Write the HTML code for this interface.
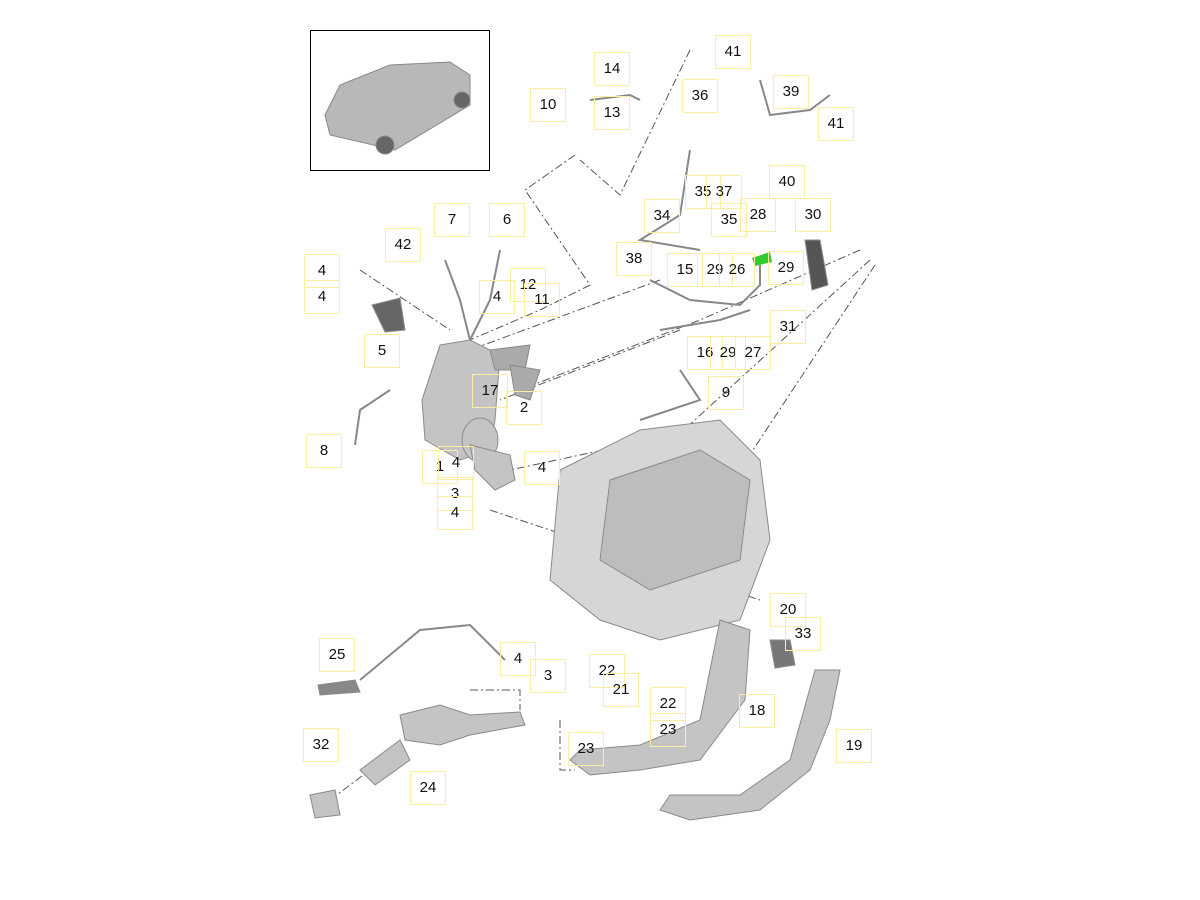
<!DOCTYPE html>
<html><head><meta charset="utf-8"><style>
html,body{margin:0;padding:0;background:#fff;}
#c{position:relative;width:1200px;height:900px;overflow:hidden;font-family:"Liberation Sans",sans-serif;}
.l{position:absolute;width:36px;height:34px;margin-left:-18px;margin-top:-17px;border:1px solid #fbeea0;box-sizing:border-box;font-size:15px;color:#111;text-align:center;line-height:32px;}
svg{position:absolute;left:0;top:0;}
</style></head><body><div id="c">
<svg width="1200" height="900">
<rect x="310.5" y="30.5" width="179" height="140" fill="none" stroke="#000"/>
<g fill="#b8b8b8" stroke="#888" stroke-width="1">
<path d="M325 115 L340 85 L390 65 L450 62 L470 75 L470 105 L395 150 L330 135 Z"/>
<circle cx="385" cy="145" r="9" fill="#666"/><circle cx="462" cy="100" r="8" fill="#666"/>
</g>
<g fill="none" stroke="#555" stroke-width="1" stroke-dasharray="8,3,2,3">
<path d="M575 155 L525 190 L590 285 L540 310 L470 340"/>
<path d="M690 50 L620 195 L580 160"/>
<path d="M860 250 L700 320 L520 390"/>
<path d="M870 260 L640 470"/>
<path d="M875 265 L720 500"/>
<path d="M660 280 L470 350"/>
<path d="M680 330 L500 400"/>
<path d="M360 270 L450 330"/>
<path d="M650 440 L510 470"/>
<path d="M490 510 L760 600"/>
<path d="M470 690 L520 690 L520 710"/>
<path d="M560 720 L560 770 L575 770"/>
<path d="M330 800 L370 770"/>
</g>
<g fill="#c4c4c4" stroke="#8a8a8a">
<path d="M440 345 L470 340 L500 355 L495 420 L490 450 L460 460 L425 440 L422 400 Z"/>
<ellipse cx="480" cy="440" rx="18" ry="22"/>
<path d="M470 445 L510 455 L515 480 L495 490 L475 470 Z"/>
<path d="M372 305 L400 298 L405 330 L385 332 Z" fill="#666"/>
<path d="M490 350 L530 345 L525 370 L495 370 Z" fill="#aaa"/>
<path d="M510 365 L540 370 L530 400 L515 395 Z" fill="#aaa"/>
<path d="M560 470 L640 430 L720 420 L760 460 L770 540 L740 620 L660 640 L600 620 L550 580 Z" fill="#d6d6d6"/>
<path d="M610 480 L700 450 L750 480 L740 560 L650 590 L600 560 Z" fill="#bdbdbd"/>
<path d="M720 620 L750 630 L745 700 L700 760 L640 770 L590 775 L570 760 L580 750 L640 745 L700 720 Z"/>
<path d="M815 670 L840 670 L830 720 L810 770 L760 810 L690 820 L660 810 L670 795 L740 795 L790 760 Z"/>
<path d="M400 715 L440 705 L470 715 L520 712 L525 725 L470 735 L440 745 L405 740 Z"/>
<path d="M360 770 L400 740 L410 760 L375 785 Z"/>
<path d="M310 795 L335 790 L340 815 L315 818 Z"/>
<path d="M318 685 L355 680 L360 692 L320 695 Z" fill="#888"/>
<path d="M805 240 L820 240 L828 285 L812 290 Z" fill="#555"/>
<path d="M770 640 L790 640 L795 665 L775 668 Z" fill="#777"/>
</g>
<path d="M752 258 L770 252 L772 262 L755 266 Z" fill="#3c3"/>
<g fill="none" stroke="#888" stroke-width="2">
<path d="M590 100 L630 95 L640 100"/><path d="M760 80 L770 115 L810 110 L830 95"/>
<path d="M690 150 L680 215 L640 240 L700 250"/><path d="M650 280 L690 300 L740 305 L760 285 L760 265"/>
<path d="M660 330 L720 320 L750 310"/><path d="M680 370 L700 400 L640 420"/>
<path d="M445 260 L460 300 L470 340"/><path d="M500 250 L490 300 L470 340"/>
<path d="M390 390 L360 410 L355 445"/><path d="M360 680 L420 630 L470 625 L505 660"/>
</g>
</svg>
<div class="l" style="left:612px;top:69px">14</div>
<div class="l" style="left:733px;top:52px">41</div>
<div class="l" style="left:548px;top:105px">10</div>
<div class="l" style="left:612px;top:113px">13</div>
<div class="l" style="left:700px;top:96px">36</div>
<div class="l" style="left:791px;top:92px">39</div>
<div class="l" style="left:836px;top:124px">41</div>
<div class="l" style="left:787px;top:182px">40</div>
<div class="l" style="left:703px;top:192px">35</div>
<div class="l" style="left:724px;top:192px">37</div>
<div class="l" style="left:662px;top:216px">34</div>
<div class="l" style="left:729px;top:220px">35</div>
<div class="l" style="left:758px;top:215px">28</div>
<div class="l" style="left:813px;top:215px">30</div>
<div class="l" style="left:634px;top:259px">38</div>
<div class="l" style="left:685px;top:270px">15</div>
<div class="l" style="left:715px;top:270px">29</div>
<div class="l" style="left:737px;top:270px">26</div>
<div class="l" style="left:786px;top:268px">29</div>
<div class="l" style="left:788px;top:327px">31</div>
<div class="l" style="left:705px;top:353px">16</div>
<div class="l" style="left:728px;top:353px">29</div>
<div class="l" style="left:753px;top:353px">27</div>
<div class="l" style="left:726px;top:393px">9</div>
<div class="l" style="left:452px;top:220px">7</div>
<div class="l" style="left:507px;top:220px">6</div>
<div class="l" style="left:403px;top:245px">42</div>
<div class="l" style="left:322px;top:271px">4</div>
<div class="l" style="left:322px;top:297px">4</div>
<div class="l" style="left:528px;top:285px">12</div>
<div class="l" style="left:542px;top:300px">11</div>
<div class="l" style="left:497px;top:297px">4</div>
<div class="l" style="left:382px;top:351px">5</div>
<div class="l" style="left:490px;top:391px">17</div>
<div class="l" style="left:524px;top:408px">2</div>
<div class="l" style="left:324px;top:451px">8</div>
<div class="l" style="left:440px;top:467px">1</div>
<div class="l" style="left:456px;top:463px">4</div>
<div class="l" style="left:542px;top:468px">4</div>
<div class="l" style="left:455px;top:494px">3</div>
<div class="l" style="left:455px;top:513px">4</div>
<div class="l" style="left:337px;top:655px">25</div>
<div class="l" style="left:518px;top:659px">4</div>
<div class="l" style="left:548px;top:676px">3</div>
<div class="l" style="left:607px;top:671px">22</div>
<div class="l" style="left:621px;top:690px">21</div>
<div class="l" style="left:668px;top:704px">22</div>
<div class="l" style="left:668px;top:730px">23</div>
<div class="l" style="left:586px;top:749px">23</div>
<div class="l" style="left:788px;top:610px">20</div>
<div class="l" style="left:803px;top:634px">33</div>
<div class="l" style="left:757px;top:711px">18</div>
<div class="l" style="left:854px;top:746px">19</div>
<div class="l" style="left:321px;top:745px">32</div>
<div class="l" style="left:428px;top:788px">24</div>
</div></body></html>
